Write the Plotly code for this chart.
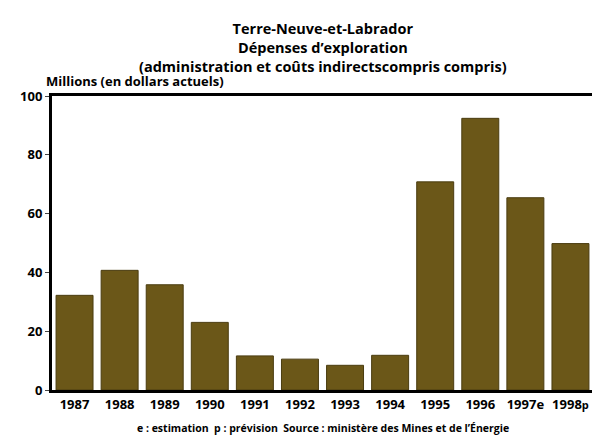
import plotly.graph_objects as go

years = ["1987","1988","1989","1990","1991","1992","1993","1994","1995","1996","1997e","1998p"]
tick_labels = ["1987","1988","1989","1990","1991","1992","1993","1994","1995","1996","1997e","1998<span style='font-size:11px'>p</span>"]
values = [32.2, 40.7, 35.8, 23.0, 11.6, 10.5, 8.4, 11.8, 70.8, 92.4, 65.4, 49.8]

fig = go.Figure(go.Bar(x=years, y=values, marker=dict(color="#6b5718", line=dict(color="#4a3c10", width=1)), width=0.82))
fig.update_layout(
    width=600, height=435, margin=dict(l=44, r=15, t=88, b=53),
    paper_bgcolor="white", plot_bgcolor="white", showlegend=False,
    font=dict(family="Open Sans", color="black", size=13),
    bargap=0.18,
)
fig.update_xaxes(tickvals=years, ticktext=["<b>%s</b>" % t for t in tick_labels], showline=True, linecolor="black", linewidth=3, mirror=True, ticks="")
fig.update_yaxes(range=[0,100], tickvals=[0,20,40,60,80,100], ticktext=["<b>%d</b>" % v for v in [0,20,40,60,80,100]],
                 showgrid=False, showline=True, linecolor="black", linewidth=3, mirror=True, ticks="outside", ticklen=4, zeroline=False)
fig.add_annotation(text="<b>Terre-Neuve-et-Labrador<br>Dépenses d’exploration<br>(administration et coûts indirectscompris compris)</b>",
                   xref="paper", yref="paper", x=0.5, y=1.27, xanchor="center", yanchor="top", showarrow=False, font=dict(size=14.5))
fig.add_annotation(text="<b>Millions (en dollars actuels)</b>", xref="paper", yref="paper", x=-0.015, y=1.015, xanchor="left", yanchor="bottom", showarrow=False, font=dict(size=13))
fig.add_annotation(text="<b>e : estimation  p : prévision  Source : ministère des Mines et de l’Énergie</b>", xref="paper", yref="paper", x=0.5, y=-0.1, xanchor="center", yanchor="top", showarrow=False, font=dict(size=10.5))
fig.write_html("out.html")
